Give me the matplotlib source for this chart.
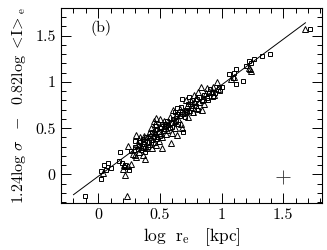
import matplotlib
matplotlib.use("Agg")
import matplotlib.pyplot as plt
from matplotlib.ticker import MultipleLocator, FixedLocator

plt.rcParams['font.family'] = ['cmr10', 'DejaVu Serif']
plt.rcParams['mathtext.fontset'] = 'cm'
plt.rcParams['axes.formatter.use_mathtext'] = True

# ---- data ----
tri_x = [0.04, 0.23, 0.22, 0.24, 0.21, 0.24, 0.27, 0.20,
         0.31, 0.29, 0.30, 0.33, 0.35, 0.36, 0.38, 0.39, 0.34, 0.32, 0.37, 0.28, 0.36, 0.40, 0.31, 0.33, 0.38,
         0.47, 0.41, 0.43, 0.45, 0.44, 0.46, 0.48, 0.50, 0.52, 0.51, 0.53, 0.49, 0.42, 0.45, 0.54, 0.47, 0.41, 0.50, 0.55, 0.44, 0.52,
         0.59, 0.56, 0.58, 0.60, 0.62, 0.63, 0.65, 0.61, 0.67, 0.64, 0.57, 0.69, 0.66, 0.60, 0.68, 0.62,
         0.81, 0.83, 0.72, 0.74, 0.75, 0.77, 0.79, 0.76, 0.80, 0.82, 0.73, 0.85, 0.87, 0.71, 0.78, 0.84, 0.88, 0.86,
         0.96, 0.92, 0.94, 0.97, 1.08, 1.10, 0.93,
         1.23, 1.24, 1.22, 1.68]
tri_y = [0.02, -0.23, -0.01, 0.31, 0.10, 0.09, 0.11, 0.06,
         0.43, 0.27, 0.21, 0.24, 0.30, 0.36, 0.17, 0.28, 0.40, 0.33, 0.42, 0.22, 0.21, 0.35, 0.19, 0.37, 0.31,
         0.61, 0.45, 0.50, 0.47, 0.38, 0.55, 0.42, 0.52, 0.28, 0.45, 0.58, 0.36, 0.33, 0.58, 0.50, 0.32, 0.40, 0.60, 0.44, 0.29, 0.40,
         0.34, 0.48, 0.62, 0.57, 0.50, 0.64, 0.60, 0.70, 0.55, 0.43, 0.55, 0.66, 0.71, 0.45, 0.50, 0.58,
         0.89, 0.95, 0.74, 0.70, 0.79, 0.68, 0.83, 0.75, 0.72, 0.78, 0.62, 0.82, 0.88, 0.80, 0.86, 0.70, 0.93, 0.76,
         1.00, 0.90, 0.86, 0.92, 1.03, 1.05, 0.95,
         1.14, 1.12, 1.15, 1.57]

sq_x = [0.02, 0.02, 0.06, 0.08, 0.05, 0.10,
        0.18, 0.19, 0.21, 0.25, 0.22, 0.17, -0.11,
        0.30, 0.32, 0.34, 0.36, 0.37, 0.39, 0.35, 0.33, 0.30, 0.38, 0.27, 0.40, 0.36,
        0.42, 0.44, 0.46, 0.48, 0.49, 0.51, 0.53, 0.43, 0.47, 0.50, 0.45, 0.54, 0.41, 0.52, 0.48, 0.55, 0.46,
        0.69, 0.57, 0.59, 0.61, 0.63, 0.64, 0.66, 0.68, 0.70, 0.58, 0.62, 0.65, 0.67, 0.56, 0.60, 0.68, 0.64,
        0.71, 0.73, 0.75, 0.76, 0.78, 0.79, 0.80, 0.82, 0.84, 0.86, 0.88, 0.90, 0.77, 0.74, 0.81, 0.89, 0.72,
        0.91, 0.95, 0.98, 1.00, 1.06, 1.12, 1.10, 1.12, 1.17, 1.09, 0.99, 0.93,
        1.22, 1.26, 1.20, 1.33, 1.39, 1.72, 1.24]
sq_y = [-0.05, 0.04, 0.05, 0.12, 0.10, 0.07,
        0.24, 0.12, 0.08, 0.05, 0.10, 0.14, -0.23,
        0.30, 0.27, 0.35, 0.38, 0.33, 0.40, 0.26, 0.31, 0.36, 0.24, 0.25, 0.30, 0.29,
        0.42, 0.46, 0.44, 0.49, 0.46, 0.50, 0.47, 0.37, 0.52, 0.41, 0.40, 0.54, 0.35, 0.55, 0.38, 0.52, 0.34,
        0.46, 0.53, 0.56, 0.60, 0.58, 0.65, 0.63, 0.68, 0.62, 0.50, 0.67, 0.55, 0.73, 0.58, 0.51, 0.82, 0.72,
        0.70, 0.76, 0.72, 0.80, 0.77, 0.74, 0.81, 0.84, 0.79, 0.86, 0.83, 0.88, 0.66, 0.84, 0.70, 0.80, 0.68,
        0.92, 0.88, 0.95, 0.94, 1.09, 1.14, 1.10, 0.98, 1.01, 1.04, 0.90, 0.84,
        1.23, 1.25, 1.17, 1.28, 1.30, 1.57, 1.20]

fit_x = [-0.20, 1.68]
fit_y = [-0.22, 1.64]

err_x, err_y = 1.5, -0.03
err_dx, err_dy = 0.055, 0.075

xtick_vals = [0, 0.5, 1, 1.5]
xtick_labels = ['0', '0.5', '1', '1.5']
ytick_vals = [0, 0.5, 1, 1.5]
ytick_labels = ['0', '0.5', '1', '1.5']

# ---- figure ----
fig = plt.figure(figsize=(3.27, 2.5), dpi=100)
ax = fig.add_axes([0.187, 0.188, 0.798, 0.78])

ax.plot(fit_x, fit_y, color='black', lw=0.7)
ax.plot(tri_x, tri_y, linestyle='none', marker='^', markersize=3.8,
        markerfacecolor='none', markeredgecolor='black', markeredgewidth=0.7)
ax.plot(sq_x, sq_y, linestyle='none', marker='s', markersize=3.2,
        markerfacecolor='none', markeredgecolor='black', markeredgewidth=0.7)
ax.errorbar([err_x], [err_y], xerr=[err_dx], yerr=[err_dy], fmt='none',
            ecolor='#333333', elinewidth=0.6, capsize=0)

ax.set_xlim(-0.30, 1.815)
ax.set_ylim(-0.31, 1.80)

ax.xaxis.set_major_locator(FixedLocator(xtick_vals))
ax.set_xticklabels(xtick_labels)
ax.yaxis.set_major_locator(FixedLocator(ytick_vals))
ax.set_yticklabels(ytick_labels)
ax.xaxis.set_minor_locator(MultipleLocator(0.1))
ax.yaxis.set_minor_locator(MultipleLocator(0.1))
ax.tick_params(which='both', direction='in', top=True, right=True, width=0.7,
               labelsize=11.5, pad=4)
ax.tick_params(which='major', length=7)
ax.tick_params(which='minor', length=3.5)
for s in ax.spines.values():
    s.set_linewidth(0.8)

ax.set_xlabel(r'$\mathrm{log}\ \ \mathrm{r}_\mathrm{e}\ \ \ [\mathrm{kpc}]$', fontsize=12.5, labelpad=3)
ax.set_ylabel(r'$1.24\mathrm{log}\ \sigma\ \ -\ \ 0.82\mathrm{log}\ <\!\mathrm{I}\!>_\mathrm{e}$',
              fontsize=11.5, labelpad=5)
ax.text(0.02, 1.58, '(b)', fontsize=11.5, ha='center', va='center')

fig.savefig('out.png', dpi=100)
